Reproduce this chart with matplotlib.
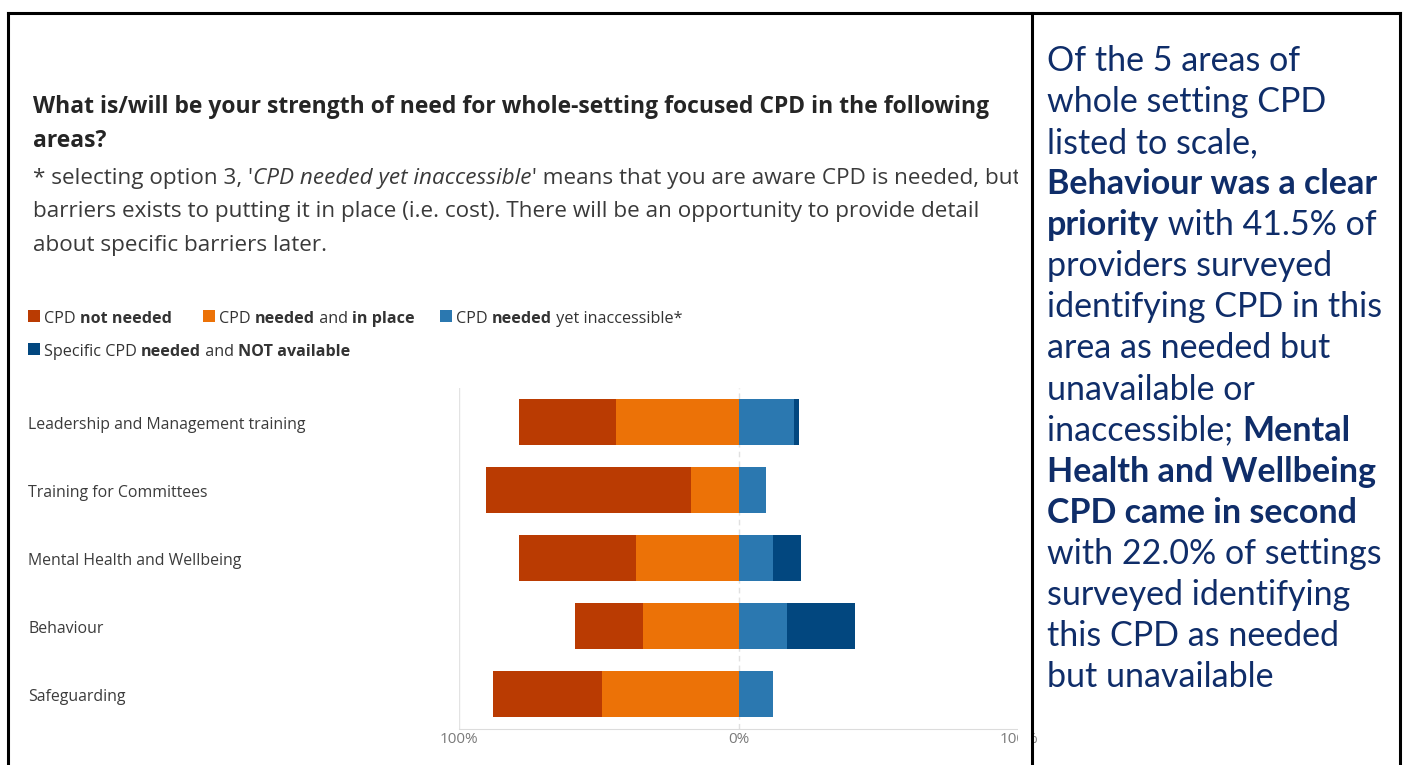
import numpy as np
import matplotlib
matplotlib.use('Agg')
from matplotlib import pyplot as plt
from matplotlib.lines import Line2D
from matplotlib.patches import Rectangle
from matplotlib.transforms import blended_transform_factory

# survey results, % of respondents per area
areas = ['Leadership and Management training', 'Training for Committees',
         'Mental Health and Wellbeing', 'Behaviour', 'Safeguarding']
not_needed = [34.3, 73.3, 41.6, 24.3, 38.8]
in_place = [44.1, 17.2, 36.9, 34.2, 49.1]
inaccessible = [19.8, 9.5, 12.0, 17.2, 12.1]
not_available = [1.8, 0.0, 10.0, 24.3, 0.0]

tick_pos = [-100, 0, 100]
tick_lab = ['100%', '0%', '100%']

c_nn = '#BA3B02'
c_ip = '#EC7207'
c_in = '#2B78B0'
c_na = '#02477F'
navy = '#0F2D69'

W, H = 1407, 765
fig = plt.figure(figsize=(W/100, H/100), dpi=100)
fig.patch.set_facecolor('white')
rend = fig.canvas.get_renderer()

def fx(x):
    return x/W

def fy(y):
    return 1 - y/H

def advance(s, **kw):
    a = fig.text(0, 0, s + '|', **kw)
    b = fig.text(0, 0, '|', **kw)
    w = a.get_window_extent(rend).width - b.get_window_extent(rend).width
    a.remove()
    b.remove()
    return w

def runs(x, y, parts, **kw):
    # draw a line made of differently styled pieces, one after another
    for s, st in parts:
        opts = dict(kw)
        if st == 'b':
            opts['fontweight'] = 'bold'
        elif st == 'i':
            opts['fontstyle'] = 'italic'
        fig.text(fx(x), fy(y), s, va='baseline', ha='left', **opts)
        x += advance(s, **opts)

# ---- chart panel ----
chart_font = 'Open Sans'
fig.text(fx(33), fy(113), 'What is/will be your strength of need for whole-setting focused CPD in the following',
         fontsize=16.5, fontweight='bold', family=chart_font, color='#252525', va='baseline')
fig.text(fx(33), fy(147), 'areas?', fontsize=16.5, fontweight='bold', family=chart_font,
         color='#252525', va='baseline')

sub = dict(fontsize=16.2, family=chart_font, color='#3a3a3a')
runs(33, 184, [("* selecting option 3, '", 'n'), ('CPD needed yet inaccessible', 'i'),
               ("' means that you are aware CPD is needed, but", 'n')], **sub)
fig.text(fx(33), fy(217), 'barriers exists to putting it in place (i.e. cost). There will be an opportunity to provide detail',
         va='baseline', **sub)
fig.text(fx(33), fy(251), 'about specific barriers later.', va='baseline', **sub)

# legend
leg = dict(fontsize=11.6, family=chart_font, color='#333333')
legend_items = [
    (28, 323, c_nn, [('CPD ', 'n'), ('not needed', 'b')]),
    (203, 323, c_ip, [('CPD ', 'n'), ('needed', 'b'), (' and ', 'n'), ('in place', 'b')]),
    (440, 323, c_in, [('CPD ', 'n'), ('needed', 'b'), (' yet inaccessible*', 'n')]),
    (28, 356, c_na, [('Specific CPD ', 'n'), ('needed', 'b'), (' and ', 'n'), ('NOT available', 'b')]),
]
for x0, y0, col, parts in legend_items:
    fig.add_artist(Rectangle((fx(x0), fy(y0 - 1)), 12/W, 12/H, transform=fig.transFigure,
                             color=col, lw=0))
    runs(x0 + 16, y0, parts, **leg)

ax = fig.add_axes([fx(459), fy(729), (1019 - 459)/W, (729 - 388)/H])
y = np.arange(len(areas))
nn = np.array(not_needed)
ip = np.array(in_place)
ina = np.array(inaccessible)
na = np.array(not_available)
h = 0.68
ax.axvline(0, color='#e0e0e0', lw=1, ls=(0, (4, 3)), zorder=0)
ax.axvline(-100, color='#e3e3e3', lw=1, zorder=0)
ax.axvline(100, color='#e3e3e3', lw=1, zorder=0)
ax.barh(y, nn, left=-(nn + ip), height=h, color=c_nn, zorder=2)
ax.barh(y, ip, left=-ip, height=h, color=c_ip, zorder=2)
ax.barh(y, ina, left=0, height=h, color=c_in, zorder=2)
ax.barh(y, na, left=ina, height=h, color=c_na, zorder=2)
ax.set_xlim(-100, 100)
ax.set_ylim(4.515, -0.5)
for s in ['top', 'left', 'right']:
    ax.spines[s].set_visible(False)
ax.spines['bottom'].set_color('#dcdcdc')
ax.set_xticks(tick_pos, tick_lab)
ax.set_yticks([])
ax.tick_params(axis='x', length=0, pad=2, labelsize=11, labelcolor='#7a7a7a')
for lab in ax.get_xticklabels():
    lab.set_family(chart_font)

# category names sit at the left edge of the panel
tr = blended_transform_factory(fig.transFigure, ax.transData)
for i, name in enumerate(areas):
    ax.text(fx(28), i + 0.04, name, transform=tr, va='center', ha='left', fontsize=11.4,
            family=chart_font, color='#3b3b3b', clip_on=False)

# screenshot edge cuts the panel on the right
fig.add_artist(Rectangle((fx(1018), 0), 13/W, 1, transform=fig.transFigure,
                         color='white', lw=0, zorder=10))

# ---- commentary panel ----
txt = dict(fontsize=24.5, family='Lato', color=navy)
lines = [
    [('Of the 5 areas of', 'n')],
    [('whole setting CPD', 'n')],
    [('listed to scale,', 'n')],
    [('Behaviour was a clear', 'b')],
    [('priority', 'b'), (' with 41.5% of', 'n')],
    [('providers surveyed', 'n')],
    [('identifying CPD in this', 'n')],
    [('area as needed but', 'n')],
    [('unavailable or', 'n')],
    [('inaccessible; ', 'n'), ('Mental', 'b')],
    [('Health and Wellbeing', 'b')],
    [('CPD came in second', 'b')],
    [('with 22.0% of settings', 'n')],
    [('surveyed identifying', 'n')],
    [('this CPD as needed', 'n')],
    [('but unavailable', 'n')],
]
for k, parts in enumerate(lines):
    runs(1047, 71 + 41.07*k, parts, **txt)

# table borders
bw = 2.2
for xs, ys in [([8, 8], [13, 765]), ([8, 1400], [13, 13]),
               ([1032, 1032], [13, 765]), ([1400, 1400], [13, 765])]:
    fig.add_artist(Line2D([fx(v) for v in xs], [fy(v) for v in ys], color='black',
                          lw=bw, zorder=20, solid_capstyle='projecting'))

fig.savefig('out.png', dpi=100)
